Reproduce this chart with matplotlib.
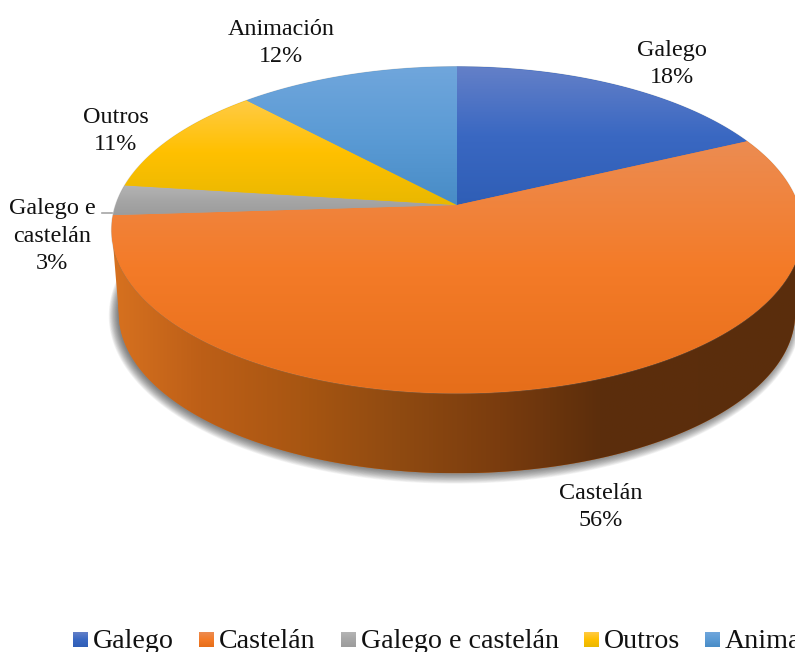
import numpy as np
import matplotlib
matplotlib.use("Agg")
import matplotlib.pyplot as plt
from matplotlib.colors import LinearSegmentedColormap
from matplotlib.patches import Polygon

# Films by language, in percent, clockwise from twelve o'clock
categories = ["Galego", "Castelán", "Galego e castelán", "Outros", "Animación"]
shares = [18, 56, 3, 11, 12]

# Light, base and deep tone of each slice's top face
slice_tones = [
    ("#6480c8", "#3a68c2", "#2f5eb6"),
    ("#ec8c52", "#f47b28", "#e66e1a"),
    ("#b4b4b4", "#a6a6a6", "#9c9c9c"),
    ("#ffcb45", "#ffc000", "#e9b800"),
    ("#70a6dc", "#5b9bd5", "#488cc6"),
]
# Shading of the outer wall: screen x and colour, left to right
wall_x = [118, 200, 300, 400, 500, 600, 798]
wall_tones = ["#d5701f", "#bd5f17", "#a85612", "#8f4a11", "#7a3c0e", "#5c2e0c", "#5a2d0c"]

label_spots = [(672, 64), (601, 507), (52, 236), (116, 131), (281, 43)]
label_lines = ["Galego", "Castelán", "Galego e\ncastelán", "Outros", "Animación"]
legend_swatch_x = [73, 199, 341, 584, 705]

CX, CY = 457.0, 205.0      # hub of the top face
A, H = 341.0, 159.2        # horizontal and vertical spread of the tilted disc
P = 0.153                  # perspective strength
DEPTH, SHRINK = 84.0, 0.98 # wall height and narrowing of the lower rim


def rim(theta, drop=0.0, scale=1.0, grow=0.0):
    """Screen position of a rim point; theta runs clockwise from the top."""
    u, v = np.sin(theta), np.cos(theta)
    d = 1 + P * v
    x = CX + (A * scale + grow) * u / d
    y = CY + drop - (H * scale + grow) * v / d
    return x, y


def gradient_fill(ax, pts, stops, horizontal=False, extent=None, z=2):
    """Paint a polygon with a linear gradient clipped to its outline."""
    xs, ys = pts[:, 0], pts[:, 1]
    if extent is None:
        extent = (xs.min(), xs.max(), ys.max(), ys.min())
    cmap = LinearSegmentedColormap.from_list("tone", stops)
    ramp = np.linspace(0, 1, 256)
    ramp = ramp[None, :] if horizontal else ramp[:, None]
    img = ax.imshow(ramp, cmap=cmap, extent=extent, origin="upper",
                    aspect="auto", zorder=z, interpolation="bilinear")
    clip = Polygon(pts, closed=True, transform=ax.transData,
                   facecolor="none", edgecolor="none")
    ax.add_patch(clip)
    img.set_clip_path(clip)


fig = plt.figure(figsize=(7.95, 6.52), dpi=100, facecolor="white")
ax = fig.add_axes([0, 0, 1, 1])
ax.axis("off")

circle = np.linspace(0, 2 * np.pi, 721)

# Soft ground shadow under the lower rim
for k in range(16):
    sx, sy = rim(circle, DEPTH, SHRINK, grow=8.0 - k * 0.6)
    ax.fill(sx - 2, sy + 1.0, color="#303030", alpha=0.05, lw=0, zorder=1)

# Outer wall: lower half of the top rim joined to the lower half of the bottom rim
tx, ty = rim(circle)
bx, by = rim(circle, DEPTH, SHRINK)
t_right, t_left = np.argmax(tx), np.argmin(tx)
b_right, b_left = np.argmax(bx), np.argmin(bx)
wall = np.vstack([
    np.column_stack([tx[t_right:t_left + 1], ty[t_right:t_left + 1]]),
    np.column_stack([bx[b_left:b_right:-1], by[b_left:b_right:-1]]),
])
span = wall_x[-1] - wall_x[0]
wall_stops = [((x - wall_x[0]) / span, c) for x, c in zip(wall_x, wall_tones)]
gradient_fill(ax, wall, wall_stops, horizontal=True,
              extent=(wall_x[0], wall_x[-1], wall[:, 1].max(), wall[:, 1].min()), z=2)

# Wall colour continued left of the first shading stop
ax.add_patch(Polygon(wall, closed=True, facecolor=wall_tones[0], edgecolor="none", zorder=1.5))

# Faint grey halo around the top face
hx, hy = rim(circle, grow=1.0)
ax.fill(hx, hy, color="#808080", alpha=0.35, lw=0, zorder=3)

# Top face, one gradient-filled slice at a time
cuts = 2 * np.pi * np.cumsum([0] + shares) / sum(shares)
for start, stop, tones in zip(cuts[:-1], cuts[1:], slice_tones):
    arc = np.linspace(start, stop, max(8, int((stop - start) * 200)))
    ax_, ay_ = rim(arc)
    pts = np.vstack([[CX, CY], np.column_stack([ax_, ay_])])
    ax.add_patch(Polygon(pts, closed=True, facecolor=tones[1], edgecolor=tones[1],
                         lw=0.6, zorder=4))
    gradient_fill(ax, pts, [tones[0], tones[1], tones[2]], z=5)

# Slice labels
for spot, text, share in zip(label_spots, label_lines, shares):
    ax.text(spot[0], spot[1], f"{text}\n{share}%", ha="center", va="center",
            fontsize=17.4, color="#111111", linespacing=1.4, zorder=7,
            family="Liberation Serif")
ax.plot([102, 112], [213, 213], color="#a6a6a6", lw=1.2, zorder=6)

# Legend row, running off the right-hand edge
for x0, name, tones in zip(legend_swatch_x, categories, slice_tones):
    square = np.array([[x0, 632], [x0 + 15, 632], [x0 + 15, 647], [x0, 647]], float)
    gradient_fill(ax, square, [tones[0], tones[1], tones[2]], z=6)
    ax.text(x0 + 20, 648, name, ha="left", va="baseline", fontsize=20.2,
            color="#111111", zorder=7, family="Liberation Serif")

ax.set_xlim(0, 795)
ax.set_ylim(652, 0)
fig.savefig("out.png", dpi=100, facecolor="white")
